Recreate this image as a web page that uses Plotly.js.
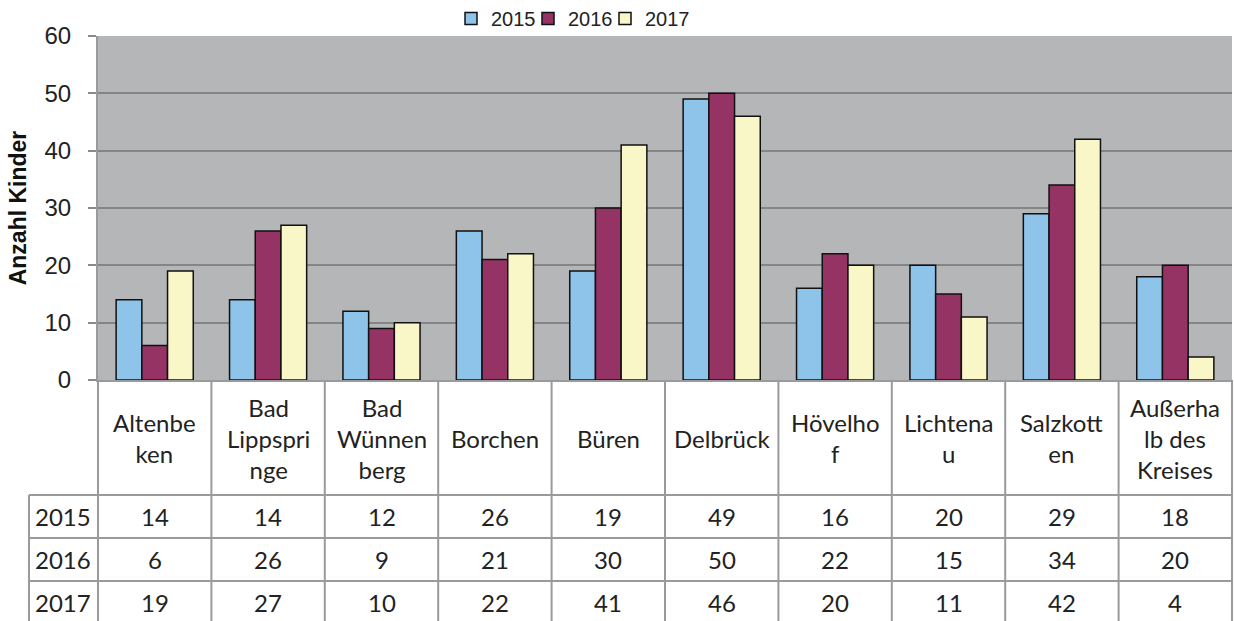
<!DOCTYPE html>
<html>
<head>
<meta charset="utf-8">
<script src="https://cdn.plot.ly/plotly-3.0.1.min.js"></script>
<style>html,body{margin:0;padding:0;background:#fff;}#chart{width:1234px;height:621px;}</style>
</head>
<body>
<div id="chart"></div>
<script>
// ---- data ----
const categories = ["Altenbeken", "Bad Lippspringe", "Bad Wünnenberg", "Borchen", "Büren", "Delbrück", "Hövelhof", "Lichtenau", "Salzkotten", "Außerhalb des Kreises"];
const headerLabels = ["Altenbe<br>ken", "Bad<br>Lippspri<br>nge", "Bad<br>Wünnen<br>berg", "Borchen", "Büren", "Delbrück", "Hövelho<br>f", "Lichtena<br>u", "Salzkott<br>en", "Außerha<br>lb des<br>Kreises"];
const seriesNames = ["2015", "2016", "2017"];
const values2015 = [14, 14, 12, 26, 19, 49, 16, 20, 29, 18];
const values2016 = [6, 26, 9, 21, 30, 50, 22, 15, 34, 20];
const values2017 = [19, 27, 10, 22, 41, 46, 20, 11, 42, 4];
const yTicks = [0, 10, 20, 30, 40, 50, 60];
const yTitle = "Anzahl Kinder";

// ---- styling / layout geometry ----
const W = 1234, H = 621;
const mL = 98, mR = 2, mT = 36, mB = 241;
const plotW = W - mL - mR, plotH = H - mT - mB;
const colors = ["#8EC4EA", "#953365", "#F9F7C7"];
const allValues = [values2015, values2016, values2017];
const px2x = p => (p - mL) / plotW;
const px2y = p => (H - mB - p) / plotH;

const traces = seriesNames.map((name, k) => ({
  type: "bar",
  name: name,
  x: categories,
  y: allValues[k],
  marker: {color: colors[k], line: {color: "#111", width: 1.5}},
  hoverinfo: "x+y+name"
}));
// invisible spacer legend entry (no drawn point) so the last legend label is not clipped
traces.push({type: "scatter", mode: "lines", x: [null], y: [null], name: " ",
  line: {color: "rgba(0,0,0,0)", width: 0}, hoverinfo: "skip", showlegend: true});

const tableFont = {family: "Lato, 'Noto Sans', sans-serif", size: 24, color: "#222"};
const annotations = [];
const shapes = [];
const n = categories.length;
const headerCenter = 438;
const rowBounds = [495, 538, 581, 624];
const lineColor = "#9a9a9a";

headerLabels.forEach((lab, i) => {
  annotations.push({xref: "paper", yref: "paper", x: (i + 0.5) / n, y: px2y(headerCenter),
    text: lab, showarrow: false, font: tableFont, xanchor: "center", yanchor: "middle", align: "center"});
});
allValues.forEach((vals, r) => {
  const cy = (rowBounds[r] + rowBounds[r + 1]) / 2;
  annotations.push({xref: "paper", yref: "paper", x: px2x(33), y: px2y(cy), text: seriesNames[r],
    showarrow: false, font: tableFont, xanchor: "left", yanchor: "middle"});
  vals.forEach((v, i) => {
    annotations.push({xref: "paper", yref: "paper", x: (i + 0.5) / n, y: px2y(cy), text: String(v),
      showarrow: false, font: tableFont, xanchor: "center", yanchor: "middle"});
  });
});
for (let i = 0; i <= n; i++) {
  shapes.push({type: "line", xref: "paper", yref: "paper", x0: i / n, x1: i / n,
    y0: px2y(H - mB), y1: px2y(H + 5), line: {color: lineColor, width: 2}});
}
rowBounds.slice(0, 3).forEach(b => {
  shapes.push({type: "line", xref: "paper", yref: "paper", x0: px2x(29), x1: 1,
    y0: px2y(b), y1: px2y(b), line: {color: lineColor, width: 2}});
});
shapes.push({type: "line", xref: "paper", yref: "paper", x0: px2x(29), x1: px2x(29),
  y0: px2y(rowBounds[0]), y1: px2y(H + 5), line: {color: lineColor, width: 2}});

const layout = {
  width: W, height: H,
  margin: {l: mL, r: mR, t: mT, b: mB, pad: 0, autoexpand: false},
  paper_bgcolor: "#ffffff",
  plot_bgcolor: "#B4B6B7",
  barmode: "group",
  bargap: 0.32,
  bargroupgap: 0,
  font: {family: "'Liberation Sans', Arial, sans-serif", color: "#222"},
  showlegend: true,
  legend: {orientation: "h", x: px2x(451), xanchor: "left", y: 1 + 37 / plotH, yanchor: "top",
    entrywidth: 32, entrywidthmode: "pixels",
    font: {family: "'Liberation Sans', Arial, sans-serif", size: 20, color: "#222"},
    bgcolor: "rgba(0,0,0,0)", itemclick: false, traceorder: "normal", tracegroupgap: 0},
  xaxis: {type: "category", showticklabels: false, ticks: "", showgrid: false,
    showline: true, linecolor: "#9a9a9a", linewidth: 2, fixedrange: true, range: [-0.5, n - 0.5]},
  yaxis: {range: [0, 60], tickvals: yTicks, ticktext: yTicks.map(String), ticks: "outside", ticklen: 8,
    tickcolor: "#8a8a8a", tickwidth: 2, ticklabelstandoff: 12,
    showline: true, linecolor: "#9a9a9a", linewidth: 2,
    showgrid: true, gridcolor: "#848586", gridwidth: 2, zeroline: false,
    tickfont: {family: "'Liberation Sans', Arial, sans-serif", size: 24, color: "#222"},
    title: {text: yTitle, font: {family: "'Liberation Sans', Arial, sans-serif", size: 23, color: "#111", weight: "bold"}, standoff: 11},
    fixedrange: true},
  annotations: annotations,
  shapes: shapes
};

Plotly.newPlot("chart", traces, layout, {displayModeBar: false, staticPlot: true});
</script>
</body>
</html>
